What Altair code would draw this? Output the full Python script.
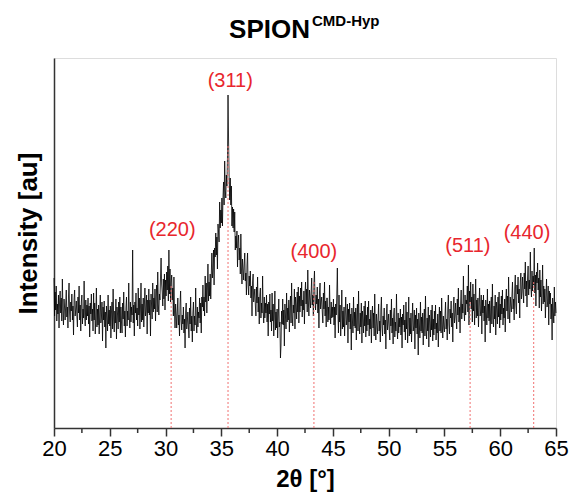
import altair as alt
import pandas as pd
import numpy as np

# XRD pattern, 2theta from 20 to 65 deg, step 0.05 deg (arbitrary units)
theta_start = 20.0
theta_step = 0.05
intensity = [
    150,112,136,118,142,107,124,114,133,100,126,137,115,130,107,149,118,103,129,120,  # 20
    108,124,138,111,121,100,132,145,115,106,126,117,134,108,122,93,129,138,112,119,   # 21
    127,112,101,131,115,142,108,123,97,126,133,104,119,110,147,113,102,128,108,123,   # 22
    112,130,104,122,91,125,114,134,107,119,97,135,108,125,94,114,140,101,119,103,     # 23
    123,94,115,133,105,110,126,87,121,108,127,101,116,80,122,110,97,133,104,118,      # 24
    102,122,90,115,126,99,139,107,96,117,105,129,89,121,113,99,126,106,131,95,        # 25
    121,106,95,125,109,136,102,117,91,120,131,102,117,108,145,111,100,126,106,121,    # 26
    113,178,105,123,92,126,115,135,108,120,102,140,113,130,99,119,145,106,124,108,    # 27
    130,101,122,140,112,117,133,94,128,115,139,113,128,92,134,122,109,145,116,130,    # 28
    119,139,107,132,143,116,156,124,113,134,128,152,170,144,136,122,149,129,154,118,  # 29
    148,132,156,138,162,127,178,134,159,126,145,153,128,140,112,151,117,100,124,114,  # 30
    100,116,130,103,113,92,124,137,107,98,113,104,121,95,109,80,116,125,99,106,       # 31
    116,101,90,120,104,131,97,112,86,115,126,97,112,103,140,106,95,121,101,116,       # 32
    110,130,105,125,95,131,121,143,117,131,112,152,126,145,115,137,164,127,146,132,   # 33
    154,129,153,175,150,159,178,143,180,171,195,173,191,159,204,196,186,226,200,218,  # 34
    205,230,202,231,246,223,267,238,230,253,242,270,333,286,250,228,250,223,242,202,  # 35
    221,200,219,196,216,178,192,180,197,161,185,193,168,180,154,194,161,144,169,159,  # 36
    148,163,175,147,155,133,163,175,143,133,152,142,157,130,142,112,146,154,126,132,  # 37
    139,123,112,141,125,151,116,131,104,133,140,110,125,115,152,117,105,131,110,125,  # 38
    115,133,106,124,92,126,114,134,106,118,97,135,107,124,92,112,137,98,116,100,      # 39
    119,90,111,129,101,106,70,83,117,104,129,103,118,82,124,112,99,135,106,120,       # 40
    108,128,96,121,132,105,145,113,102,123,115,139,99,131,123,109,136,116,141,105,    # 41
    132,116,140,122,146,111,128,118,137,104,135,146,124,139,116,158,127,112,138,129,  # 42
    120,136,150,123,133,112,144,157,127,118,133,124,141,115,129,100,136,145,119,126,  # 43
    131,116,105,135,119,146,112,127,101,130,130,106,121,108,143,115,104,126,110,121,  # 44
    111,129,103,121,90,124,113,133,160,118,95,133,106,123,92,112,138,99,117,101,      # 45
    121,92,113,131,103,108,124,85,119,106,125,99,114,78,120,108,95,131,102,116,       # 46
    100,120,88,113,124,97,137,105,94,115,101,125,85,117,109,95,122,102,127,91,        # 47
    113,97,121,103,127,92,109,99,118,85,111,122,100,115,92,134,103,88,114,105,        # 48
    94,110,124,97,107,86,118,131,101,92,112,103,120,94,108,79,115,124,98,105,         # 49
    114,99,88,118,102,129,95,110,84,113,120,91,106,97,134,100,89,115,95,110,          # 50
    101,119,93,111,80,114,103,123,96,108,88,126,99,116,85,105,131,92,110,94,          # 51
    115,86,107,125,97,102,118,79,113,100,120,94,109,73,115,103,90,126,97,111,         # 52
    95,115,83,108,119,92,132,100,89,110,97,121,81,113,105,91,118,98,123,87,           # 53
    109,93,117,99,123,88,105,95,114,81,108,121,97,117,95,130,106,90,112,101,          # 54
    96,112,126,99,109,88,120,133,103,94,119,110,127,101,115,86,122,131,105,112,       # 55
    125,110,99,129,113,140,106,121,95,124,138,109,124,115,152,118,107,133,113,128,    # 56
    124,142,116,163,103,137,126,146,119,131,106,144,117,134,103,123,149,110,128,112,  # 57
    130,101,122,140,112,117,133,94,128,115,133,107,122,86,128,116,103,139,110,124,    # 58
    107,127,95,120,131,104,144,112,101,122,109,133,93,126,118,104,131,111,136,100,    # 59
    124,108,132,114,138,103,120,110,129,96,128,139,117,132,109,151,120,105,131,122,   # 60
    116,132,146,119,129,108,140,153,123,114,143,134,151,125,139,110,146,155,129,136,  # 61
    151,136,125,155,139,166,132,147,121,150,162,133,148,139,176,142,131,157,137,152,  # 62
    143,180,135,153,122,156,145,165,138,150,120,158,131,148,117,137,163,124,142,126,  # 63
    139,110,131,149,121,126,142,103,137,124,135,109,124,88,130,118,105,141,112,126,   # 64
    115,                                                                              # 65
]

peak_pos = [30.5, 35.6, 43.3, 57.3, 63.0]
peak_top = [143, 283, 146, 128, 146]
peak_labels = ["(220)", "(311)", "(400)", "(511)", "(440)"]
label_x = [30.6, 35.8, 43.3, 57.1, 62.4]
label_y = [198, 347, 176, 182, 195]
major_ticks = [20, 25, 30, 35, 40, 45, 50, 55, 60, 65]
minor_ticks = [22.5, 27.5, 32.5, 37.5, 42.5, 47.5, 52.5, 57.5, 62.5]

two_theta = np.round(theta_start + theta_step * np.arange(len(intensity)), 2)
df = pd.DataFrame({"t": two_theta, "I": intensity})
peaks = pd.DataFrame({"pos": peak_pos, "top": peak_top, "base": [0] * len(peak_pos)})
labels = pd.DataFrame({"lx": label_x, "ly": label_y, "txt": peak_labels})
minor = pd.DataFrame({"m": minor_ticks})

FONT = "Liberation Sans"
xscale = alt.Scale(domain=[20, 65], nice=False, zero=False)
yscale = alt.Scale(domain=[0, 370], nice=False)

line = alt.Chart(df).mark_line(color="black", strokeWidth=0.8).encode(
    x=alt.X("t:Q", scale=xscale,
            axis=alt.Axis(values=major_ticks, title="2θ [°]", grid=False,
                          tickSize=8, tickWidth=1.5, tickColor="#333",
                          domainColor="#333", domainWidth=1.5,
                          labelFontSize=22, labelFont=FONT, labelColor="black",
                          labelFlush=False, labelOverlap=False,
                          labelPadding=2, titleFontSize=24, titleFont=FONT,
                          titleFontWeight="bold", titleColor="black", titlePadding=8)),
    y=alt.Y("I:Q", scale=yscale,
            axis=alt.Axis(labels=False, ticks=False, grid=False, title="Intensity [au]",
                          domainColor="#333", domainWidth=1.5,
                          titleFontSize=26, titleFont=FONT, titleFontWeight="bold",
                          titleColor="black", titlePadding=13, titleY=175)),
)

rules = alt.Chart(peaks).mark_rule(color="#f07070", strokeDash=[2, 2], strokeWidth=1).encode(
    x=alt.X("pos:Q", scale=xscale),
    y=alt.Y("base:Q", scale=yscale),
    y2="top:Q",
)

texts = alt.Chart(labels).mark_text(color="#e8262d", fontSize=20, font=FONT,
                                    baseline="middle", align="center").encode(
    x=alt.X("lx:Q", scale=xscale),
    y=alt.Y("ly:Q", scale=yscale),
    text="txt:N",
)

minor_ticks_layer = alt.Chart(minor).mark_rule(color="#333", strokeWidth=1.5).encode(
    x=alt.X("m:Q", scale=xscale),
    y=alt.value(370),
    y2=alt.value(375),
)

title_main = alt.Chart(pd.DataFrame({"s": ["SPION"]})).mark_text(
    font=FONT, fontSize=26, fontWeight="bold", color="black", align="right",
    baseline="alphabetic").encode(text="s:N", x=alt.value(256), y=alt.value(-20))

title_sup = alt.Chart(pd.DataFrame({"s": ["CMD-Hyp"]})).mark_text(
    font=FONT, fontSize=15, fontWeight="bold", color="black", align="left",
    baseline="alphabetic").encode(text="s:N", x=alt.value(258), y=alt.value(-32))

chart = alt.layer(line, rules, texts, minor_ticks_layer, title_main, title_sup).properties(
    width=502, height=370,
    padding={"left": 54, "top": 58, "right": 13, "bottom": 68},
    autosize=alt.AutoSizeParams(type="none"),
).configure_view(stroke="#333", strokeWidth=1.5).configure(background="white")

chart.save("out.html", embed_options={"renderer": "svg", "actions": False})
